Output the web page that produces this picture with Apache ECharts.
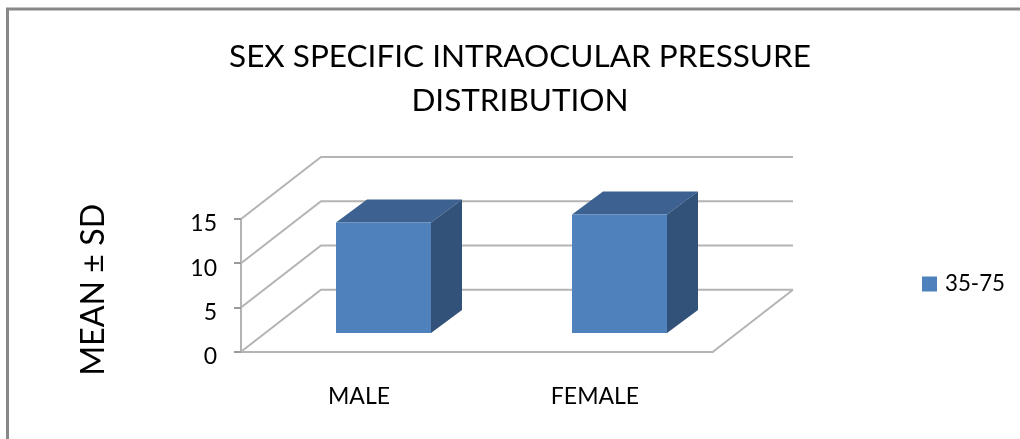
<!DOCTYPE html>
<html>
<head>
<meta charset="utf-8">
<style>html,body{margin:0;padding:0;background:#fff}#c{width:1020px;height:439px}</style>
<script src="https://cdn.jsdelivr.net/npm/echarts@6/dist/echarts.min.js"></script>
</head>
<body>
<div id="c"></div>
<script>
var categories = ['MALE', 'FEMALE'];
var seriesName = '35-75';
var values = [12.5, 13.4];
var yTicks = [0, 5, 10, 15];
var titleText = 'SEX SPECIFIC INTRAOCULAR PRESSURE\nDISTRIBUTION';
var yName = 'MEAN \u00b1 SD';

var FONT = 'Lato';
var WALL = { dx: 80, dy: -62 };
var BAR = { width: 95, dx: 31, dy: -23, shiftX: 24.5, shiftY: -18.7 };
var lineStyle = { stroke: '#b4b4b4', lineWidth: 2, fill: null };

var chart = echarts.init(document.getElementById('c'), null, { renderer: 'canvas' });
chart.setOption({
  animation: false,
  backgroundColor: '#ffffff',
  title: {
    text: titleText, left: 515, top: 30, textAlign: 'center',
    textStyle: { fontFamily: FONT, fontSize: 31.5, fontWeight: 'normal', color: '#000', lineHeight: 44 }
  },
  legend: {
    data: [seriesName], left: 922, top: 273, icon: 'rect', itemWidth: 15, itemHeight: 15, itemGap: 0,
    textStyle: { fontFamily: FONT, fontSize: 22.3, color: '#000', padding: [0, 0, 0, 3] },
    padding: 0
  },
  grid: { left: 241, top: 219, width: 472, height: 132.7 },
  xAxis: {
    type: 'category', data: categories,
    axisLine: { lineStyle: { color: '#b4b4b4', width: 2 } },
    axisTick: { show: false },
    axisLabel: { fontFamily: FONT, fontSize: 23, color: '#000', margin: 33 }
  },
  yAxis: {
    type: 'value', min: 0, max: 15, interval: 5,
    name: yName, nameLocation: 'middle', nameGap: 131, nameRotate: 90,
    nameTextStyle: { fontFamily: FONT, fontSize: 32.2, color: '#000', padding: [0, 9, 0, 0] },
    axisLine: { show: true, lineStyle: { color: '#b4b4b4', width: 2 } },
    axisTick: { show: true, length: 7, lineStyle: { color: '#9a9a9a', width: 2 } },
    axisLabel: { fontFamily: FONT, fontSize: 23, color: '#000', margin: 24, verticalAlign: 'top', lineHeight: 10 },
    splitLine: { show: false }
  },
  series: [
    {
      type: 'custom', name: 'walls', coordinateSystem: 'cartesian2d', z: 1,
      encode: { y: 0 }, data: yTicks.map(function (v) { return [v]; }),
      renderItem: function (params, api) {
        var cs = params.coordSys;
        var y = api.coord([0, api.value(0)])[1];
        var x0 = cs.x, x1 = cs.x + cs.width;
        var children = [
          { type: 'polyline', shape: { points: [[x0, y], [x0 + WALL.dx, y + WALL.dy], [x1 + WALL.dx, y + WALL.dy]] }, style: lineStyle }
        ];
        if (api.value(0) === yTicks[0]) {
          children.push({ type: 'line', shape: { x1: x1, y1: y, x2: x1 + WALL.dx, y2: y + WALL.dy }, style: lineStyle });
        }
        return { type: 'group', children: children };
      }
    },
    {
      type: 'custom', name: seriesName, coordinateSystem: 'cartesian2d', z: 3,
      itemStyle: { color: '#4f81bd' },
      encode: { x: 0, y: 1 },
      data: values.map(function (v, i) { return [i, v]; }),
      renderItem: function (params, api) {
        var base = api.coord([api.value(0), 0]);
        var top = api.coord([api.value(0), api.value(1)]);
        var l = base[0] + BAR.shiftX - BAR.width / 2, r = l + BAR.width;
        var b = base[1] + BAR.shiftY, t = top[1] + BAR.shiftY - 0;
        var dx = BAR.dx, dy = BAR.dy;
        return {
          type: 'group',
          children: [
            { type: 'polygon', shape: { points: [[l, t], [r, t], [r + dx, t + dy], [l + dx, t + dy]] }, style: { fill: '#3d6190' } },
            { type: 'polygon', shape: { points: [[r, t], [r + dx, t + dy], [r + dx, b + dy], [r, b]] }, style: { fill: '#325279' } },
            { type: 'rect', shape: { x: l, y: t, width: BAR.width, height: b - t }, style: { fill: '#4f81bd' } }
          ]
        };
      }
    }
  ],
  graphic: [
    { type: 'polyline', silent: true, shape: { points: [[7.5, 439], [7.5, 9], [1020, 9]] }, style: { stroke: '#888888', lineWidth: 3, fill: null } }
  ]
});
</script>
</body>
</html>
